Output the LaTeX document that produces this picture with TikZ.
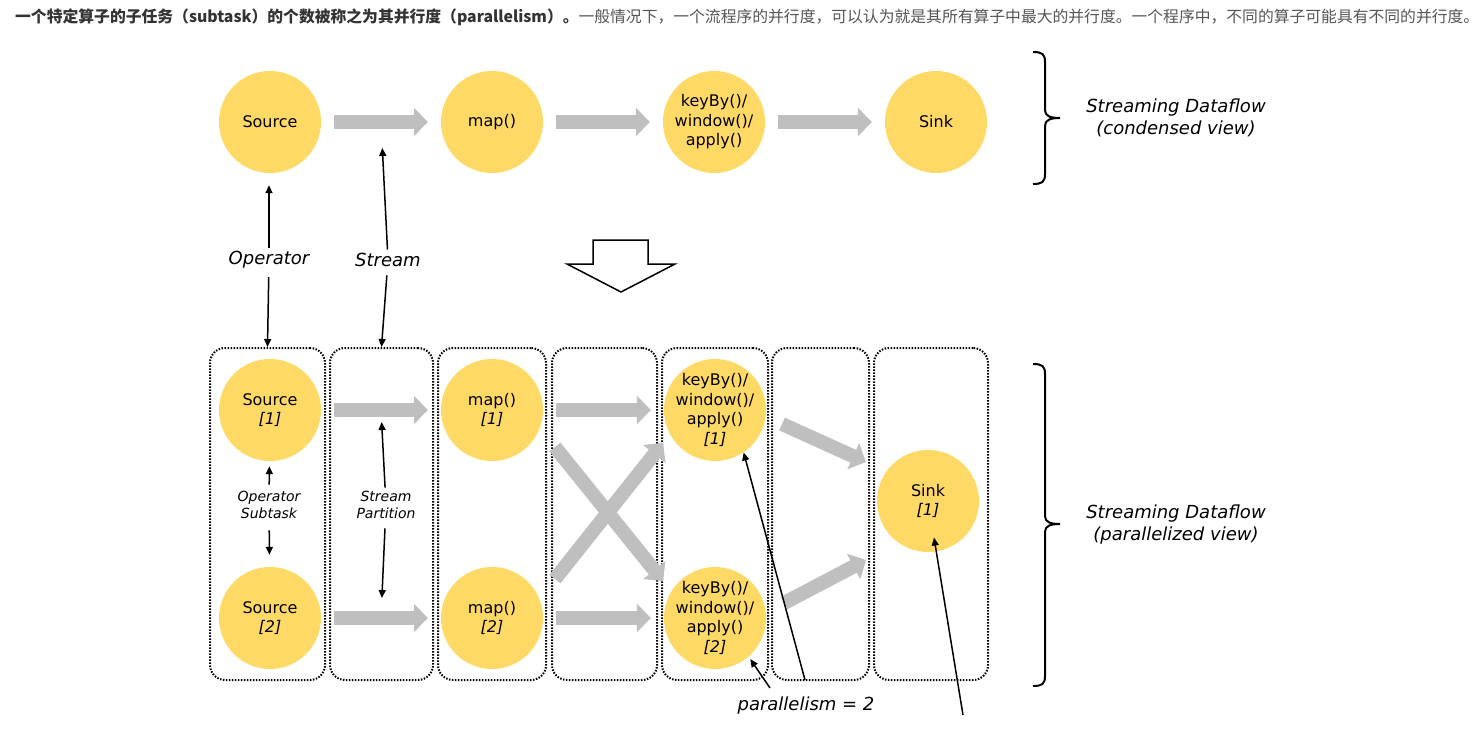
\documentclass[tikz,border=0pt]{standalone}
\usepackage{fontspec}
\setmainfont{DejaVu Sans}
\newfontfamily\cjk{Noto Sans CJK SC}
\usepackage{tikz}
\usetikzlibrary{positioning,arrows.meta}
\definecolor{opyellow}{HTML}{FFD966}
\definecolor{flowgray}{HTML}{BFBFBF}
\definecolor{txtdark}{HTML}{333333}
\definecolor{txtgray}{HTML}{555555}

\begin{document}
\begin{tikzpicture}[x=1pt, y=-1pt,
	op/.style={circle, fill=opyellow, minimum size=102pt, inner sep=-10pt, align=center, font=\fontsize{16}{19.5}\selectfont},
	flow/.style={flowgray, line width=14pt, -{Triangle[length=14pt,width=28pt]}, shorten <=13pt, shorten >=13pt},
	ann/.style={black, line width=1.5pt, -{Triangle[length=8pt,width=7pt]}},
	lab/.style={font=\fontsize{18}{22}\selectfont\itshape, align=center},
	small/.style={font=\fontsize{14}{17}\selectfont\itshape, align=center},
	slot/.style={draw, line width=2pt, dash pattern=on 1.5pt off 1.5pt, rounded corners=15pt, minimum height=332pt, inner sep=0pt},
	brace/.style={line width=2pt}]
		\useasboundingbox (0,0) rectangle (1479,728);

		% 说明文字
		\node[anchor=west, inner sep=0pt, font=\cjk\fontsize{15.8}{18}\selectfont] (intro) at (15,17)
			{\textcolor{txtdark}{\bfseries 一个特定算子的子任务（subtask）的个数被称之为其并行度（parallelism）。}\textcolor{txtgray}{一般情况下，一个流程序的并行度，可以认为就是其所有算子中最大的并行度。一个程序中，不同的算子可能具有不同的并行度。}};

		% 压缩视图
		\node[op] (src) at (270,122) {Source};
		\node[op] (map) at (492,122) {map()};
		\node[op] (key) at (714,122) {keyBy()/\\window()/\\apply()};
		\node[op] (sink) at (936,122) {Sink};
		\draw[flow] (src) -- coordinate (e1) (map);
		\draw[flow] (map) -- (key);
		\draw[flow] (key) -- (sink);

		\node[lab] (oplab) at (269,260) {Operator};
		\node[lab] (strlab) at (388,260) {Stream};

		\draw[brace] (1033,52) .. controls (1042,52) and (1045,54) .. (1045,62) -- (1045,110)
			.. controls (1045,116) and (1050,118) .. (1060,118)
			.. controls (1050,118) and (1045,120) .. (1045,126) -- (1045,174)
			.. controls (1045,182) and (1042,184) .. (1033,184);
		\node[lab] (cview) at (1176,118) {Streaming Dataflow\\(condensed view)};

		% 空心箭头
		\draw[line width=1.5pt] (593,240) -- (648,240) -- (648,264) -- (675,264) -- (621,292) -- (567,264) -- (593,264) -- cycle;

		% 并行视图
		\node[slot, minimum width=115pt] (b1) at (267.5,514) {};
		\node[slot, minimum width=103pt] (b2) at (381.5,514) {};
		\node[slot, minimum width=108pt] (b3) at (492,514) {};
		\node[slot, minimum width=105pt] (b4) at (604.5,514) {};
		\node[slot, minimum width=106pt] (b5) at (715,514) {};
		\node[slot, minimum width=97pt] (b6) at (820.5,514) {};
		\node[slot, minimum width=114pt] (b7) at (931,514) {};

		\node[op] (s1) at (270,410) {Source\\\textit{[1]}};
		\node[op] (s2) at (270,618) {Source\\\textit{[2]}};
		\node[op] (m1) at (492,410) {map()\\\textit{[1]}};
		\node[op] (m2) at (492,618) {map()\\\textit{[2]}};
		\node[op] (k1) at (715,410) {keyBy()/\\window()/\\apply()\\\textit{[1]}};
		\node[op] (k2) at (715,618) {keyBy()/\\window()/\\apply()\\\textit{[2]}};
		\node[op] (sk) at (928,501) {Sink\\\textit{[1]}};

		\draw[flow] (s1) -- coordinate (p1) (m1);
		\draw[flow] (s2) -- coordinate (p2) (m2);
		\draw[flow] (m1) -- (k1);
		\draw[flow] (m2) -- (k2);

		\coordinate (xa) at (555,447);
		\coordinate (xb) at (663,581);
		\coordinate (xc) at (555,579);
		\coordinate (xd) at (663,443);
		\draw[flow, shorten <=0pt, shorten >=0pt] (xa) -- (xb);
		\draw[flow, shorten <=0pt, shorten >=0pt] (xc) -- (xd);

		\coordinate (ya) at (782,424);
		\coordinate (yb) at (866,462);
		\coordinate (yc) at (784,603);
		\coordinate (yd) at (866,560);
		\draw[flow, shorten <=0pt, shorten >=0pt] (ya) -- (yb);
		\draw[flow, shorten <=0pt, shorten >=0pt] (yc) -- (yd);

		\node[small] (sublab) at (269,505) {Operator\\Subtask};
		\node[small] (partlab) at (386,505) {Stream\\Partition};
		\node[lab] (parlab) at (806,706) {parallelism = 2};

		\draw[brace] (1033,364) .. controls (1042,364) and (1045,366) .. (1045,374) -- (1045,516)
			.. controls (1045,522) and (1050,524) .. (1060,524)
			.. controls (1050,524) and (1045,526) .. (1045,532) -- (1045,676)
			.. controls (1045,684) and (1042,686) .. (1033,686);
		\node[lab] (pview) at (1176,525) {Streaming Dataflow\\(parallelized view)};

		% 标注箭头
		\draw[ann, shorten >=12pt] (oplab.north) -- (oplab.north |- src.south);
		\draw[ann, shorten <=5pt] (oplab) -- (b1.north);
		\draw[ann, shorten >=26pt] (strlab) -- (e1);
		\draw[ann, shorten <=5pt] (strlab) -- (b2.north);

		\draw[ann, shorten <=3pt, shorten >=5pt] (sublab) -- (s1);
		\draw[ann, shorten <=8pt, shorten >=12pt] (sublab) -- (s2);
		\draw[ann, shorten >=12pt] (partlab) -- (p1);
		\draw[ann, shorten <=6pt, shorten >=20pt] (partlab) -- (p2);

		\coordinate (pa) at (805,680);
		\coordinate (pb) at (770,688);
		\coordinate (pc) at (963,715);
		\draw[ann] (pa) -- (k1.-56);
		\draw[ann, shorten >=3pt] (pb) -- (k2.-49);
		\draw[ann, shorten >=37pt] (pc) -- (sk.center);
	\end{tikzpicture}
\end{document}
